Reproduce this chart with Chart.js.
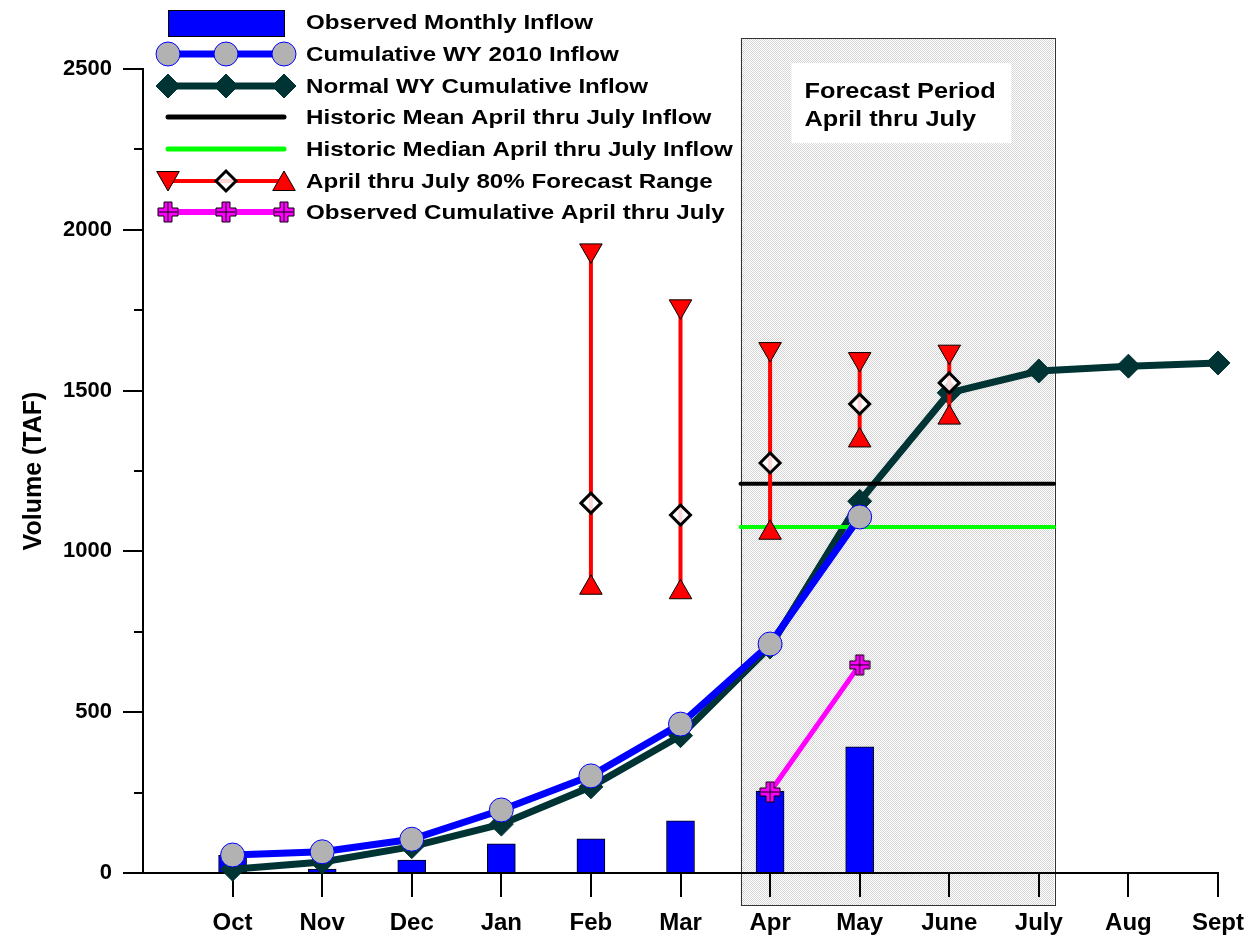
<!DOCTYPE html>
<html>
<head>
<meta charset="utf-8">
<script src="https://cdn.jsdelivr.net/npm/chart.js@4.4.0/dist/chart.umd.min.js"></script>
<style>
  html, body { margin: 0; padding: 0; background: #fff; }
  #wrap { width: 1258px; height: 935px; }
</style>
</head>
<body>
<div id="wrap"><canvas id="myChart" width="1258" height="935"></canvas></div>
<script>
// data (TAF)
const months = ['Oct', 'Nov', 'Dec', 'Jan', 'Feb', 'Mar', 'Apr', 'May', 'June', 'July', 'Aug', 'Sept'];
const monthlyInflow = [55, 12, 40, 91, 106, 162, 255, 392, null, null, null, null];
const cumulative2010 = [56, 66, 105, 196, 302, 463, 712, 1107, null, null, null, null];
const normalCumulative = [12, 34, 82, 152, 268, 427, 703, 1156, 1493, 1561, 1576, 1586];
const forecastHigh = [null, null, null, null, 1936, 1762, 1629, 1598, 1621, null, null, null];
const forecastMid = [null, null, null, null, 1150, 1113, 1275, 1458, 1524, null, null, null];
const forecastLow = [null, null, null, null, 887, 873, 1058, 1345, 1416, null, null, null];
const observedAprJul = [null, null, null, null, null, null, 252, 647, null, null, null, null];
const histMean = 1210;
const histMedian = 1076;
// forecast period shading, in month-index units / TAF
const forecastSpan = [5.67, 9.17];
const forecastBoxY = [-100, 2596];

const legendLabels = [
  'Observed Monthly Inflow',
  'Cumulative WY 2010 Inflow',
  'Normal WY Cumulative Inflow',
  'Historic Mean April thru July Inflow',
  'Historic Median April thru July Inflow',
  'April thru July 80% Forecast Range',
  'Observed Cumulative April thru July'
];

const FONT = 'Arial, "Liberation Sans", Helvetica, sans-serif';
const DARK = '#003333';

function toPoints(arr) {
  let pts = [];
  arr.forEach((v, i) => { if (v !== null) pts.push({ x: i, y: v }); });
  return pts;
}

// magenta plus marker
const plusImg = document.createElement('canvas');
plusImg.width = 22; plusImg.height = 22;
(function () {
  const c = plusImg.getContext('2d');
  const a = 7, b = 15;
  c.beginPath();
  c.moveTo(a, 1); c.lineTo(b, 1); c.lineTo(b, a); c.lineTo(21, a); c.lineTo(21, b);
  c.lineTo(b, b); c.lineTo(b, 21); c.lineTo(a, 21); c.lineTo(a, b); c.lineTo(1, b);
  c.lineTo(1, a); c.lineTo(a, a); c.closePath();
  c.fillStyle = '#ff00ff';
  c.fill();
  c.strokeStyle = '#000';
  c.lineWidth = 1;
  c.stroke();
  c.beginPath();
  c.moveTo(11, 2); c.lineTo(11, 20); c.moveTo(2, 11); c.lineTo(20, 11);
  c.stroke();
})();

// forecast range: high / mid / low per month, broken by a gap
let fcData = [], fcStyle = [], fcRot = [], fcRadius = [], fcBg = [], fcBorder = [], fcBorderW = [];
forecastHigh.forEach((hi, i) => {
  if (hi === null) return;
  fcData.push({ x: i, y: hi }, { x: i, y: forecastMid[i] }, { x: i, y: forecastLow[i] }, { x: i, y: null });
  fcStyle.push('triangle', 'rectRot', 'triangle', 'circle');
  fcRot.push(180, 0, 0, 0);
  fcRadius.push(13, 10, 13, 0);
  fcBg.push('#ff0000', 'rgba(255,255,255,0.85)', '#ff0000', '#ff0000');
  fcBorder.push('#000', '#000', '#000', '#000');
  fcBorderW.push(1, 3, 1, 0);
});

// pattern for the forecast period shading
const pat = document.createElement('canvas');
pat.width = 2; pat.height = 2;
(function () {
  const c = pat.getContext('2d');
  c.fillStyle = '#ffffff'; c.fillRect(0, 0, 2, 2);
  c.fillStyle = '#d6d6d6'; c.fillRect(0, 0, 1, 1); c.fillRect(1, 1, 1, 1);
})();

const forecastBox = {
  id: 'forecastBox',
  beforeDraw(chart) {
    const ctx = chart.ctx;
    const x = chart.scales.x, y = chart.scales.y;
    const l = x.getPixelForValue(forecastSpan[0]);
    const r = x.getPixelForValue(forecastSpan[1]);
    const t = y.getPixelForValue(forecastBoxY[1]);
    const b = y.getPixelForValue(forecastBoxY[0]);
    ctx.save();
    ctx.fillStyle = ctx.createPattern(pat, 'repeat');
    ctx.fillRect(l, t, r - l, b - t);
    ctx.strokeStyle = '#333';
    ctx.lineWidth = 1;
    ctx.strokeRect(Math.round(l) + 0.5, Math.round(t) + 0.5, Math.round(r - l), Math.round(b - t));
    // label box
    ctx.fillStyle = '#fff';
    ctx.fillRect(l + 51, t + 25, 220, 80);
    ctx.fillStyle = '#000';
    ctx.font = 'bold 22px ' + FONT;
    ctx.textBaseline = 'middle';
    ctx.textAlign = 'left';
    ctx.translate(l + 64, t + 54);
    ctx.scale(1.15, 1);
    ctx.fillText('Forecast Period', 0, 0);
    ctx.fillText('April thru July', 0, 28);
    ctx.restore();
  }
};

const extras = {
  id: 'extras',
  afterDraw(chart) {
    const ctx = chart.ctx;
    const y = chart.scales.y;
    const H = Chart.helpers;
    ctx.save();
    // minor ticks on the value axis
    ctx.strokeStyle = '#000';
    ctx.lineWidth = 2;
    y.ticks.forEach(t => {
      if (t.value % 500 === 0) return;
      const py = Math.round(y.getPixelForValue(t.value));
      ctx.beginPath();
      ctx.moveTo(y.right - 9, py);
      ctx.lineTo(y.right, py);
      ctx.stroke();
    });

    // legend
    const x0 = 168, x1 = 226, x2 = 284;
    const rows = [22, 54, 86, 117, 149, 181, 212];
    function seg(yy, color, w) {
      ctx.strokeStyle = color; ctx.lineWidth = w; ctx.lineCap = 'round';
      ctx.beginPath(); ctx.moveTo(x0, yy); ctx.lineTo(x2, yy); ctx.stroke();
      ctx.lineCap = 'butt';
    }
    function pt(opts, fill, stroke, xx, yy) {
      ctx.fillStyle = fill; ctx.strokeStyle = stroke; ctx.lineWidth = opts.borderWidth;
      H.drawPoint(ctx, opts, xx, yy);
    }
    ctx.fillStyle = '#0000ff';
    ctx.fillRect(x0, 10, x2 - x0, 26);
    ctx.strokeStyle = '#000'; ctx.lineWidth = 1;
    ctx.strokeRect(x0 + 0.5, 10.5, x2 - x0, 26);

    seg(rows[1], '#0000ff', 7);
    [x0, x1, x2].forEach(xx => pt({ pointStyle: 'circle', radius: 12, borderWidth: 1 }, '#b2b2b2', '#0000ff', xx, rows[1]));
    seg(rows[2], DARK, 7);
    [x0, x1, x2].forEach(xx => pt({ pointStyle: 'rectRot', radius: 12, borderWidth: 1 }, DARK, DARK, xx, rows[2]));
    seg(rows[3], '#000', 5);
    seg(rows[4], '#00ff00', 5);
    seg(rows[5], '#ff0000', 4);
    pt({ pointStyle: 'triangle', radius: 13, rotation: 180, borderWidth: 1 }, '#ff0000', '#000', x0, rows[5] - 3);
    pt({ pointStyle: 'rectRot', radius: 10, borderWidth: 3 }, 'rgba(255,255,255,0.85)', '#000', x1, rows[5]);
    pt({ pointStyle: 'triangle', radius: 13, rotation: 0, borderWidth: 1 }, '#ff0000', '#000', x2, rows[5] + 3);
    seg(rows[6], '#ff00ff', 6);
    [x0, x1, x2].forEach(xx => ctx.drawImage(plusImg, xx - 11, rows[6] - 11));

    ctx.fillStyle = '#000';
    ctx.font = 'bold 21px ' + FONT;
    ctx.textBaseline = 'middle';
    ctx.textAlign = 'left';
    legendLabels.forEach((txt, i) => {
      ctx.save();
      ctx.translate(306, rows[i] + 1);
      ctx.scale(1.15, 1);
      ctx.fillText(txt, 0, 0);
      ctx.restore();
    });
    ctx.restore();
  }
};

const ctx = document.getElementById('myChart').getContext('2d');
new Chart(ctx, {
  data: {
    datasets: [
      {
        type: 'bar',
        data: toPoints(monthlyInflow),
        backgroundColor: '#0000ff',
        borderColor: '#000',
        borderWidth: 1,
        barThickness: 28,
        order: 10
      },
      {
        type: 'line',
        data: toPoints(normalCumulative),
        borderColor: DARK,
        borderWidth: 7,
        pointStyle: 'rectRot',
        pointRadius: 12,
        pointBackgroundColor: DARK,
        pointBorderColor: DARK,
        pointBorderWidth: 1,
        clip: false,
        order: 8
      },
      {
        type: 'line',
        data: [{ x: forecastSpan[0], y: histMean }, { x: forecastSpan[1], y: histMean }],
        borderColor: '#000',
        borderWidth: 4,
        borderCapStyle: 'round',
        pointRadius: 0,
        order: 6
      },
      {
        type: 'line',
        data: [{ x: forecastSpan[0], y: histMedian }, { x: forecastSpan[1], y: histMedian }],
        borderColor: '#00ff00',
        borderWidth: 4,
        borderCapStyle: 'round',
        pointRadius: 0,
        order: 6
      },
      {
        type: 'line',
        data: toPoints(cumulative2010),
        borderColor: '#0000ff',
        borderWidth: 7,
        pointStyle: 'circle',
        pointRadius: 12,
        pointBackgroundColor: '#b2b2b2',
        pointBorderColor: '#0000ff',
        pointBorderWidth: 1,
        clip: false,
        order: 4
      },
      {
        type: 'line',
        data: fcData,
        spanGaps: false,
        borderColor: '#ff0000',
        borderWidth: 4,
        pointStyle: fcStyle,
        pointRotation: fcRot,
        pointRadius: fcRadius,
        pointBackgroundColor: fcBg,
        pointBorderColor: fcBorder,
        pointBorderWidth: fcBorderW,
        clip: false,
        order: 3
      },
      {
        type: 'line',
        data: toPoints(observedAprJul),
        borderColor: '#ff00ff',
        borderWidth: 5,
        pointStyle: plusImg,
        pointRadius: 11,
        clip: false,
        order: 2
      }
    ]
  },
  options: {
    responsive: false,
    animation: false,
    layout: { padding: { left: 0, top: 69, right: 40, bottom: 0 } },
    plugins: {
      legend: { display: false },
      tooltip: { enabled: false }
    },
    scales: {
      x: {
        type: 'linear',
        min: -1,
        max: 11,
        offset: false,
        afterBuildTicks: (scale) => { scale.ticks = months.map((m, i) => ({ value: i })); },
        afterFit: (scale) => { scale.height = 62; },
        grid: { offset: false, drawOnChartArea: false, drawTicks: true, tickLength: 24, color: '#000', lineWidth: 2 },
        border: { color: '#000', width: 2 },
        ticks: {
          autoSkip: false,
          maxRotation: 0,
          padding: 12,
          color: '#000',
          font: { family: FONT, size: 24, weight: 'bold' },
          callback: (v) => months[v] || ''
        }
      },
      y: {
        min: 0,
        max: 2500,
        afterFit: (scale) => { scale.width = 143; },
        grid: {
          drawOnChartArea: false,
          tickLength: 20,
          lineWidth: 2,
          color: (c) => (c.tick && c.tick.value % 500 === 0 ? '#000' : 'rgba(0,0,0,0)')
        },
        border: { color: '#000', width: 2 },
        title: {
          display: true,
          text: 'Volume (TAF)',
          color: '#000',
          font: { family: FONT, size: 25, weight: 'bold' },
          padding: { top: 19, bottom: 0 }
        },
        ticks: {
          stepSize: 250,
          padding: 11,
          color: '#000',
          font: { family: FONT, size: 22, weight: 'bold' },
          callback: (v) => (v % 500 === 0 ? v : '')
        }
      }
    }
  },
  plugins: [forecastBox, extras]
});
</script>
</body>
</html>
